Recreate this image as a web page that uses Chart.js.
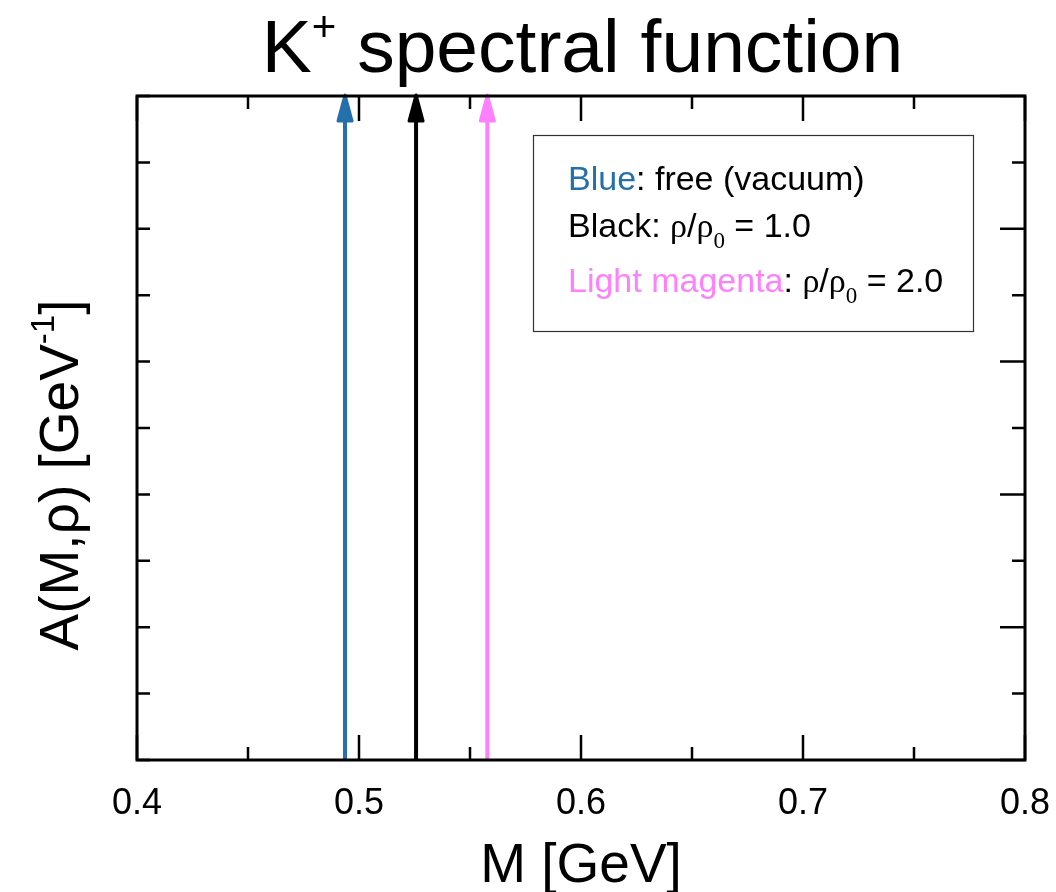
<!DOCTYPE html>
<html lang="en">
<head>
    <meta charset="UTF-8">
    <title>K+ spectral function</title>
    <script src="https://cdn.jsdelivr.net/npm/chart.js@4.4.0/dist/chart.umd.min.js"></script>
    <style>
        body { margin: 0; background: #fff; }
    </style>
</head>
<body>
    <canvas id="myChart" width="1056" height="892"></canvas>
<script>
    // pole positions of the K+ spectral function [GeV]
    const seriesNames = ['free (vacuum)', 'rho/rho0 = 1.0', 'rho/rho0 = 2.0'];
    const seriesColors = ['#2470ab', '#000000', '#ff80ff'];
    const poleMass = [0.4937, 0.5257, 0.5578];
    const arrowBase = [0, 0, 0];
    const arrowTop = [10, 10, 10];

    const xMajorTicks = [0.4, 0.5, 0.6, 0.7, 0.8];
    const xMinorTicks = [0.45, 0.55, 0.65, 0.75];
    const xTickLabels = ['0.4', '0.5', '0.6', '0.7', '0.8'];
    const yMajorTicks = [0, 2, 4, 6, 8, 10];
    const yMinorTicks = [1, 3, 5, 7, 9];

    const SANS = "'Liberation Sans', Arial, sans-serif";
    const SERIF = "'Liberation Serif', 'Times New Roman', serif";

    const datasets = poleMass.map((m, i) => ({
        label: seriesNames[i],
        data: [{x: m, y: arrowBase[i]}, {x: m, y: arrowTop[i]}],
        borderColor: seriesColors[i],
        backgroundColor: seriesColors[i],
        borderWidth: 4,
        showLine: true,
        pointRadius: 0,
        clip: false
    }));

    // draw a row of text pieces, each piece {t, font, color, dy}
    function drawPieces(ctx, pieces, x, y) {
        let cx = x;
        pieces.forEach(p => {
            ctx.font = p.font;
            ctx.fillStyle = p.color || '#000';
            ctx.fillText(p.t, cx, y + (p.dy || 0));
            cx += ctx.measureText(p.t).width;
        });
        return cx - x;
    }
    function widthOf(ctx, pieces) {
        let w = 0;
        pieces.forEach(p => { ctx.font = p.font; w += ctx.measureText(p.t).width; });
        return w;
    }

    const arrowHeads = {
        id: 'arrowHeads',
        afterDatasetsDraw(chart) {
            const ctx = chart.ctx;
            chart.data.datasets.forEach((ds, i) => {
                const pt = chart.getDatasetMeta(i).data[1];
                ctx.save();
                ctx.fillStyle = ds.borderColor;
                ctx.strokeStyle = ds.borderColor;
                ctx.lineWidth = 3;
                ctx.lineJoin = 'round';
                ctx.beginPath();
                ctx.moveTo(pt.x, pt.y - 1);
                ctx.lineTo(pt.x - 7, pt.y + 25);
                ctx.lineTo(pt.x + 7, pt.y + 25);
                ctx.closePath();
                ctx.fill();
                ctx.stroke();
                ctx.restore();
            });
        }
    };

    const frameAndText = {
        id: 'frameAndText',
        afterDraw(chart) {
            const ctx = chart.ctx;
            const a = chart.chartArea;
            const xs = chart.scales.x, ys = chart.scales.y;
            ctx.save();
            ctx.strokeStyle = '#000';
            ctx.lineWidth = 3;
            ctx.lineCap = 'butt';
            ctx.strokeRect(a.left, a.top, a.right - a.left, a.bottom - a.top);

            // inward ticks
            ctx.lineWidth = 2.5;
            ctx.beginPath();
            const xTick = (v, len) => {
                const px = xs.getPixelForValue(v);
                ctx.moveTo(px, a.bottom); ctx.lineTo(px, a.bottom - len);
                ctx.moveTo(px, a.top); ctx.lineTo(px, a.top + len);
            };
            xMajorTicks.forEach(v => xTick(v, 25));
            xMinorTicks.forEach(v => xTick(v, 13));
            const yTick = (v, len) => {
                const py = ys.getPixelForValue(v);
                ctx.moveTo(a.left, py); ctx.lineTo(a.left + 13, py);
                ctx.moveTo(a.right, py); ctx.lineTo(a.right - len, py);
            };
            yMajorTicks.forEach(v => yTick(v, 25));
            yMinorTicks.forEach(v => yTick(v, 13));
            ctx.stroke();

            // tick labels
            ctx.fillStyle = '#000';
            ctx.textBaseline = 'alphabetic';
            ctx.textAlign = 'center';
            ctx.font = '36px ' + SANS;
            xMajorTicks.forEach((v, i) => {
                ctx.fillText(xTickLabels[i], xs.getPixelForValue(v), 814);
            });

            // x title
            ctx.font = '55px ' + SANS;
            ctx.fillText('M [GeV]', 581, 882);

            ctx.textAlign = 'left';
            // main title
            const title = [
                {t: 'K', font: '75px ' + SANS},
                {t: '+', font: '42px ' + SANS, dy: -31},
                {t: ' spectral function', font: '75px ' + SANS}
            ];
            drawPieces(ctx, title, 582.5 - widthOf(ctx, title) / 2, 72);

            // y title
            const ytitle = [
                {t: 'A(M,', font: '55px ' + SANS},
                {t: '\u03c1', font: '55px ' + SANS},
                {t: ') [GeV', font: '55px ' + SANS},
                {t: '-1', font: '33px ' + SANS, dy: -24},
                {t: ']', font: '55px ' + SANS}
            ];
            ctx.save();
            ctx.translate(78, 475);
            ctx.rotate(-Math.PI / 2);
            drawPieces(ctx, ytitle, -widthOf(ctx, ytitle) / 2, 0);
            ctx.restore();

            // legend box
            ctx.lineWidth = 1.2;
            ctx.strokeStyle = '#333';
            ctx.strokeRect(533.5, 135.5, 440, 196);
            const f = '34px ' + SANS, g = '34px ' + SERIF, s = '23px ' + SERIF;
            const rho = (val) => [
                {t: '\u03c1', font: g}, {t: '/', font: f}, {t: '\u03c1', font: g},
                {t: '0', font: s, dy: 11}, {t: ' = ' + val, font: f}
            ];
            drawPieces(ctx, [
                {t: 'Blue', font: f, color: seriesColors[0]},
                {t: ': free (vacuum)', font: f}
            ], 568, 190);
            drawPieces(ctx, [{t: 'Black: ', font: f}].concat(rho('1.0')), 568, 237);
            drawPieces(ctx, [
                {t: 'Light magenta', font: f, color: seriesColors[2]},
                {t: ': ', font: f}
            ].concat(rho('2.0')), 568, 292);
            ctx.restore();
        }
    };

    const config = {
        type: 'scatter',
        data: { datasets },
        options: {
            responsive: false,
            animation: false,
            layout: { padding: { left: 137, right: 31, top: 96, bottom: 132 } },
            plugins: { legend: { display: false }, tooltip: { enabled: false } },
            scales: {
                x: { type: 'linear', min: 0.4, max: 0.8, display: false },
                y: { type: 'linear', min: 0, max: 10, display: false }
            }
        },
        plugins: [arrowHeads, frameAndText]
    };

    var myChart = new Chart(document.getElementById('myChart'), config);
</script>
</body>
</html>
